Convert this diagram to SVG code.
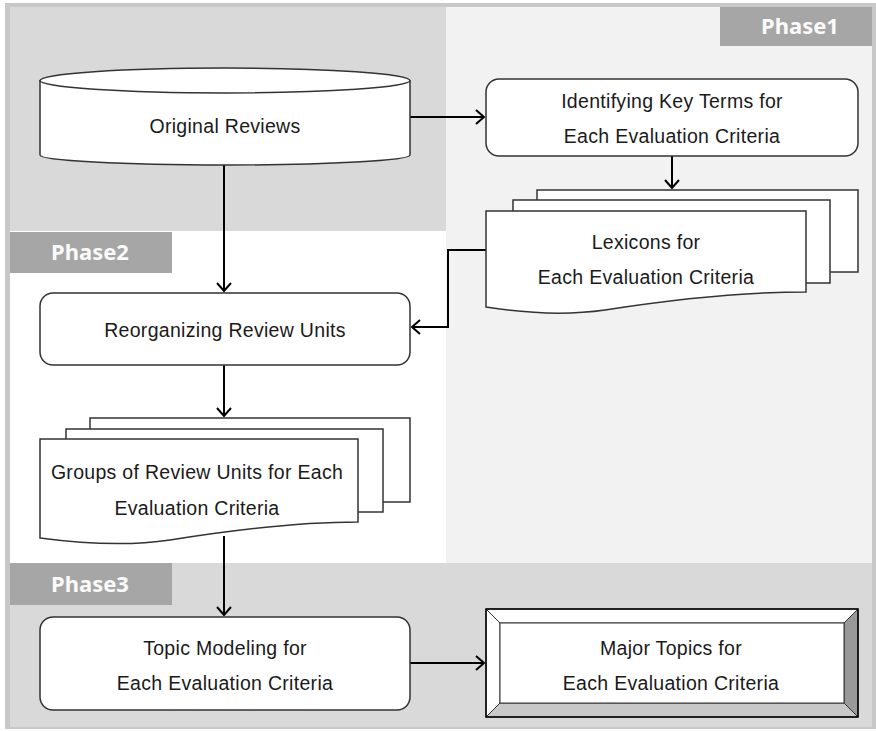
<svg xmlns="http://www.w3.org/2000/svg" width="876" height="731" viewBox="0 0 876 731">
<defs>
<style>
.lbl{font-family:"Liberation Sans",Arial,sans-serif;font-size:19.5px;letter-spacing:0.3px;fill:#1a1a1a;text-anchor:middle}
.ph{font-family:"Noto Sans","Open Sans",sans-serif;font-weight:bold;font-size:22px;fill:#fafafa;text-anchor:middle}
.shape{fill:#fff;stroke:#333;stroke-width:1.5}
.conn{fill:none;stroke:#000;stroke-width:2}
</style>
<marker id="arr" markerUnits="userSpaceOnUse" markerWidth="14" markerHeight="16" refX="10" refY="8" orient="auto">
<path d="M2,1 L10,8 L2,15" fill="none" stroke="#000" stroke-width="2"/>
</marker>
</defs>
<g id="background">
<rect x="0" y="0" width="876" height="731" fill="#fff"/>
<rect x="5" y="3" width="871" height="726" fill="#c8c8c8"/>
<rect x="10" y="7" width="436" height="224" fill="#d9d9d9"/>
<rect x="446" y="7" width="426" height="556" fill="#f2f2f2"/>
<rect x="10" y="231" width="436" height="332" fill="#ffffff"/>
<rect x="10" y="563" width="862" height="164" fill="#d9d9d9"/>
</g>
<g id="phase1-label">
<rect x="720" y="7" width="152" height="39" fill="#a6a6a6"/>
<text class="ph" x="800" y="34">Phase1</text>
</g>
<g id="phase2-label">
<rect x="10" y="232" width="162" height="41" fill="#a6a6a6"/>
<text class="ph" x="90" y="260">Phase2</text>
</g>
<g id="phase3-label">
<rect x="10" y="563" width="162" height="42" fill="#a6a6a6"/>
<text class="ph" x="90" y="592">Phase3</text>
</g>
<g id="connectors">
<path class="conn" d="M410,117 H484" marker-end="url(#arr)"/>
<path class="conn" d="M672,156 V188" marker-end="url(#arr)"/>
<path class="conn" d="M224,165 V291" marker-end="url(#arr)"/>
<path class="conn" d="M486,250 H448 V327 H412" marker-end="url(#arr)"/>
<path class="conn" d="M224,365 V416" marker-end="url(#arr)"/>
<path class="conn" d="M224,536 V615" marker-end="url(#arr)"/>
<path class="conn" d="M410,663 H484" marker-end="url(#arr)"/>
</g>
<g id="original-reviews">
<path class="shape" d="M40,80 V155 A185,10 0 0 0 410,155 V80"/>
<ellipse class="shape" cx="225" cy="80.5" rx="185" ry="12.5"/>
<text class="lbl" x="225" y="133">Original Reviews</text>
</g>
<g id="identifying-key-terms">
<rect class="shape" x="486" y="79" width="372" height="77" rx="13"/>
<text class="lbl" x="672" y="108">Identifying Key Terms for</text>
<text class="lbl" x="672" y="143">Each Evaluation Criteria</text>
</g>
<g id="lexicons">
<rect class="shape" x="537" y="190" width="321" height="82"/>
<rect class="shape" x="513" y="200" width="317" height="83"/>
<path class="shape" d="M486,211 H806 V292 C730,292 650,303 605,310 C570,315 530,314 486,307 Z"/>
<text class="lbl" x="646" y="249">Lexicons for</text>
<text class="lbl" x="646" y="284">Each Evaluation Criteria</text>
</g>
<g id="reorganizing">
<rect class="shape" x="40" y="293" width="370" height="72" rx="13"/>
<text class="lbl" x="225" y="337">Reorganizing Review Units</text>
</g>
<g id="groups">
<rect class="shape" x="90" y="418" width="320" height="84"/>
<rect class="shape" x="66" y="429" width="317" height="83"/>
<path class="shape" d="M40,439 H358 V522 C290,522 220,532 170,540 C130,546 85,544 40,538 Z"/>
<text class="lbl" x="197" y="479">Groups of Review Units for Each</text>
<text class="lbl" x="197" y="515">Evaluation Criteria</text>
</g>
<g id="topic-modeling">
<rect class="shape" x="40" y="617" width="370" height="93" rx="13"/>
<text class="lbl" x="225" y="655">Topic Modeling for</text>
<text class="lbl" x="225" y="690">Each Evaluation Criteria</text>
</g>
<g id="major-topics">
<rect x="486" y="609" width="372" height="108" fill="#fff"/>
<polygon points="858,609 858,717 844,703 844,623" fill="#999" stroke="#333" stroke-width="1"/>
<polygon points="486,717 858,717 844,703 500,703" fill="#c8c8c8" stroke="#333" stroke-width="1"/>
<polygon points="486,609 858,609 844,623 500,623" fill="#fff" stroke="#333" stroke-width="1"/>
<polygon points="486,609 500,623 500,703 486,717" fill="#fff" stroke="#333" stroke-width="1"/>
<rect x="500" y="623" width="344" height="80" fill="#fff" stroke="#333" stroke-width="1"/>
<rect x="486" y="609" width="372" height="108" fill="none" stroke="#000" stroke-width="1.5"/>
<text class="lbl" x="671" y="655">Major Topics for</text>
<text class="lbl" x="671" y="690">Each Evaluation Criteria</text>
</g>
</svg>
